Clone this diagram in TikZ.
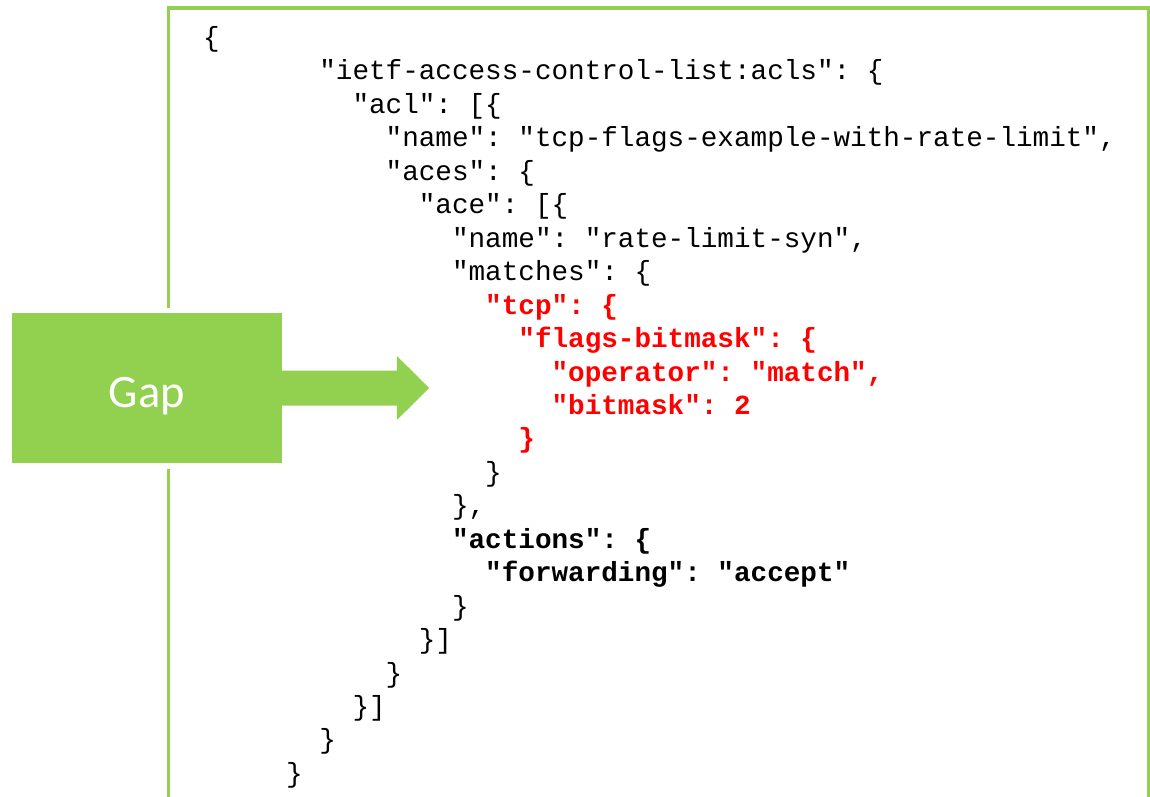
\documentclass[tikz,border=0pt]{standalone}
\usepackage{fontspec}
\newfontfamily\codefont{Liberation Mono}[Ligatures=TeXOff]
\newfontfamily\labelfont{Carlito}
\definecolor{leaf}{HTML}{92D050}
\definecolor{hot}{HTML}{FF0000}
% grid of the listing: character advance, line pitch, origin
\def\cw{16.59}
\def\lh{33.45}
\def\xo{203}
\def\yo{46.5}
\begin{document}
\frenchspacing
\begin{tikzpicture}[x=1pt,y=-1pt,
  code/.style={anchor=base west, inner sep=0pt, text=black,
    font=\codefont\frenchspacing\fontsize{27.65}{33}\selectfont},
  strong/.style={code, font=\codefont\frenchspacing\bfseries\fontsize{27.65}{33}\selectfont},
  hi/.style={strong, text=hot},
  frame/.style={draw=leaf, line width=3.2pt},
  gapbox/.style={fill=leaf, minimum width=270pt, minimum height=150pt,
    inner sep=0pt, text=white, text height=38pt, text depth=0pt,
    font=\labelfont\fontsize{46.5}{54}\selectfont,
    preaction={draw=white, line width=11pt}},
  pointer/.style={fill=leaf}]
\useasboundingbox (0,0) rectangle (1150,796);

% open frame around the listing
\draw[frame] (168.7,800) -- (168.7,8) -- (1148.6,8) -- (1148.6,800);

% listing
\node[code]   (l1)  at ({\xo+0*\cw},{\yo+0*\lh})  {\{};
\node[code]   (l2)  at ({\xo+7*\cw},{\yo+1*\lh})  {"ietf-access-control-list:acls": \{};
\node[code]   (l3)  at ({\xo+9*\cw},{\yo+2*\lh})  {"acl": [\{};
\node[code]   (l4)  at ({\xo+11*\cw},{\yo+3*\lh}) {"name": "tcp-flags-example-with-rate-limit",};
\node[code]   (l5)  at ({\xo+11*\cw},{\yo+4*\lh}) {"aces": \{};
\node[code]   (l6)  at ({\xo+13*\cw},{\yo+5*\lh}) {"ace": [\{};
\node[code]   (l7)  at ({\xo+15*\cw},{\yo+6*\lh}) {"name": "rate-limit-syn",};
\node[code]   (l8)  at ({\xo+15*\cw},{\yo+7*\lh}) {"matches": \{};
\node[hi]     (l9)  at ({\xo+17*\cw},{\yo+8*\lh}) {"tcp": \{};
\node[hi]     (l10) at ({\xo+19*\cw},{\yo+9*\lh}) {"flags-bitmask": \{};
\node[hi]     (l11) at ({\xo+21*\cw},{\yo+10*\lh}) {"operator": "match",};
\node[hi]     (l12) at ({\xo+21*\cw},{\yo+11*\lh}) {"bitmask": 2};
\node[hi]     (l13) at ({\xo+19*\cw},{\yo+12*\lh}) {\}};
\node[code]   (l14) at ({\xo+17*\cw},{\yo+13*\lh}) {\}};
\node[code]   (l15) at ({\xo+15*\cw},{\yo+14*\lh}) {\},};
\node[strong] (l16) at ({\xo+15*\cw},{\yo+15*\lh}) {"actions": \{};
\node[strong] (l17) at ({\xo+17*\cw},{\yo+16*\lh}) {"forwarding": "accept"};
\node[code]   (l18) at ({\xo+15*\cw},{\yo+17*\lh}) {\}};
\node[code]   (l19) at ({\xo+13*\cw},{\yo+18*\lh}) {\}]};
\node[code]   (l20) at ({\xo+11*\cw},{\yo+19*\lh}) {\}};
\node[code]   (l21) at ({\xo+9*\cw},{\yo+20*\lh})  {\}]};
\node[code]   (l22) at ({\xo+7*\cw},{\yo+21*\lh})  {\}};
\node[code]   (l23) at ({\xo+5*\cw},{\yo+22*\lh})  {\}};

% label block with its arrow
\node[gapbox] (gap) at (147,388) {Gap};
\fill[pointer] ([xshift=-1pt]gap.east) ++(0,-17.5) -- ++(115.7,0) -- ++(0,-14.5)
  -- ++(32.3,32) -- ++(-32.3,32) -- ++(0,-14.5) -- ++(-115.7,0) -- cycle;
\end{tikzpicture}
\end{document}
